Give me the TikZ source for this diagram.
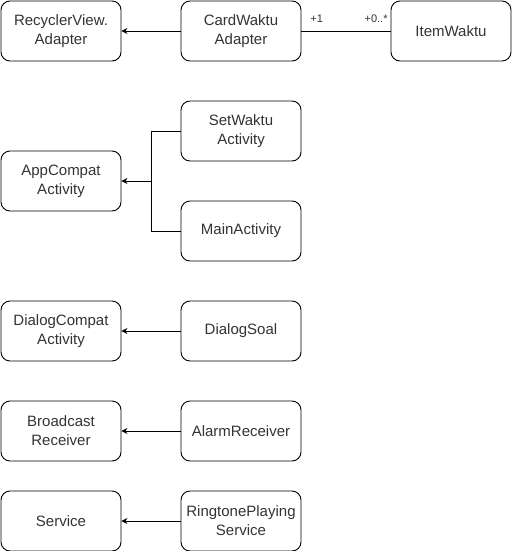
\documentclass[tikz,border=0pt]{standalone}
\usepackage{fontspec}
\setmainfont{Liberation Sans}
\usetikzlibrary{arrows.meta}

\begin{document}
\begin{tikzpicture}[
    x=1pt,y=-1pt,
    line width=0.9pt,
    >={Stealth[length=6pt,width=6pt]},
    cls/.style={draw,rounded corners=9pt,minimum width=120pt,minimum height=60pt,
      inner sep=2pt,align=center,text=black!80,font=\fontsize{15}{19}\selectfont},
    mult/.style={inner sep=1pt,text=black!80,font=\fontsize{11}{13}\selectfont},
  ]

  \useasboundingbox (0,0) rectangle (511,551);

  % adapter row
  \node (rv)  at (61,31)  [cls] {RecyclerView.\\Adapter};
  \node (cwa) at (241,31) [cls] {CardWaktu\\Adapter};
  \node (iw)  at (451,31) [cls] {ItemWaktu};

  \draw[->] (cwa.west) -- (rv.east);
  \draw (cwa.east) -- (iw.west);
  \node (m-1) at (309,24) [mult,anchor=south west] {+1};
  \node (m-2) at (389,24) [mult,anchor=south east] {+0..*};

  % activities
  \node (aca) at (61,181)  [cls] {AppCompat\\Activity};
  \node (swa) at (241,131) [cls] {SetWaktu\\Activity};
  \node (ma)  at (241,231) [cls] {MainActivity};

  \coordinate (join) at (151,181);
  \draw (swa.west) -| (join);
  \draw (ma.west) -| (join);
  \draw[->] (join) -- (aca.east);

  % dialog, receiver, service
  \node (dca) at (61,331)  [cls] {DialogCompat\\Activity};
  \node (ds)  at (241,331) [cls] {DialogSoal};
  \node (br)  at (61,431)  [cls] {Broadcast\\Receiver};
  \node (ar)  at (241,431) [cls] {AlarmReceiver};
  \node (svc) at (61,521)  [cls] {Service};
  \node (rps) at (241,521) [cls] {RingtonePlaying\\Service};

  \draw[->] (ds.west) -- (dca.east);
  \draw[->] (ar.west) -- (br.east);
  \draw[->] (rps.west) -- (svc.east);

\end{tikzpicture}
\end{document}
